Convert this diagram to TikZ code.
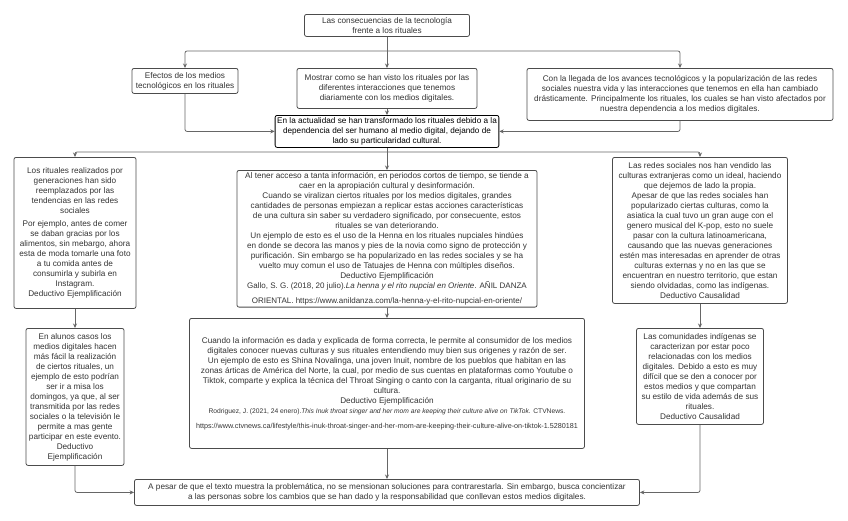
\documentclass[tikz,border=0pt]{standalone}
\usepackage{fontspec}
\setmainfont{Liberation Sans}
\usetikzlibrary{arrows.meta}
\newcommand{\cita}{\fontsize{8}{9.5}\selectfont}
\newcommand{\citachica}{\fontsize{6.7}{8}\selectfont}
\newcommand{\enlace}{\fontsize{7.2}{8.5}\selectfont}
\tikzset{
  caja/.style={draw=black!70, line width=0.8pt, rounded corners=2pt, anchor=north, align=center,
    inner xsep=2pt, inner ysep=2pt, text=black!80, font=\fontsize{8.2}{10}\selectfont},
  flecha/.style={draw=black!60, line width=0.8pt, rounded corners=2pt, -{Stealth[length=4.5pt,width=4pt]}},
  linea/.style={draw=black!60, line width=0.8pt, rounded corners=2pt}
}

\begin{document}
\begin{tikzpicture}[x=1pt,y=-1pt]
  \useasboundingbox (0,0) rectangle (848,520);
  \node[caja, minimum width=165, minimum height=22] (titulo) at (387,14)
    {Las consecuencias de la tecnología\\ frente a los rituales};
  \node[caja, minimum width=106, minimum height=25] (efectos) at (185,68)
    {Efectos de los medios\\ tecnológicos en los rituales};
  \node[caja, minimum width=180, minimum height=40] (mostrar) at (387,68)
    {Mostrar como se han visto los rituales por las\\ diferentes interacciones que tenemos\\
     diariamente con los medios digitales.};
  \node[caja, minimum width=306, minimum height=52] (llegada) at (680,68)
    {Con la llegada de los avances tecnológicos y la popularización de las redes\\
     sociales nuestra vida y las interacciones que tenemos en ella han cambiado\\
     drásticamente. Principalmente los rituales, los cuales se han visto afectados por\\
     nuestra dependencia a los medios digitales.};
  \node[caja, draw=black, text=black, minimum width=222, minimum height=32] (actualidad) at (387,115)
    {En la actualidad se han transformado los rituales debido a la\\
     dependencia del ser humano al medio digital, dejando de\\ lado su particularidad cultural.};

  \node[caja, minimum width=122, minimum height=151] (rituales) at (75,157)
    {Los rituales realizados por\\ generaciones han sido\\ reemplazados por las\\ tendencias en las redes\\
     sociales\\[3pt] Por ejemplo, antes de comer\\ se daban gracias por los\\ alimentos, sin mebargo, ahora\\
     esta de moda tomarle una foto\\ a tu comida antes de\\ consumirla y subirla en\\ Instagram.\\
     Deductivo Ejemplificación};
  \node[caja, minimum width=300, minimum height=130] (henna) at (387,170)
    {Al tener acceso a tanta información, en periodos cortos de tiempo, se tiende a\\
     caer en la apropiación cultural y desinformación.\\
     Cuando se viralizan ciertos rituales por los medios digitales, grandes\\
     cantidades de personas empiezan a replicar estas acciones características\\
     de una cultura sin saber su verdadero significado, por consecuente, estos\\
     rituales se van deteriorando.\\
     Un ejemplo de esto es el uso de la Henna en los rituales nupciales hindúes\\
     en donde se decora las manos y pies de la novia como signo de protección y\\
     purificación. Sin embargo se ha popularizado en las redes sociales y se ha\\
     vuelto muy comun el uso de Tatuajes de Henna con múltiples diseños.\\
     Deductivo Ejemplificación\\
     {\cita Gallo, S. G. (2018, 20 julio).\textit{La henna y el rito nupcial en Oriente}. AÑIL DANZA}\\[5pt]
     {\cita ORIENTAL. https://www.anildanza.com/la-henna-y-el-rito-nupcial-en-oriente/}};
  \node[caja, minimum width=175, minimum height=146] (redes) at (700,157)
    {Las redes sociales nos han vendido las\\ culturas extranjeras como un ideal, haciendo\\
     que dejemos de lado la propia.\\ Apesar de que las redes sociales han\\
     popularizado ciertas culturas, como la\\ asiatica la cual tuvo un gran auge con el\\
     genero musical del K-pop, esto no suele\\ pasar con la cultura latinoamericana,\\
     causando que las nuevas generaciones\\ estén mas interesadas en aprender de otras\\
     culturas externas y no en las que se\\ encuentran en nuestro territorio, que estan\\
     siendo olvidadas, como las indígenas.\\ Deductivo Causalidad};

  \node[caja, minimum width=98, minimum height=137] (domingo) at (75,328)
    {En alunos casos los\\ medios digitales hacen\\ más fácil la realización\\ de ciertos rituales, un\\
     ejemplo de esto podrían\\ ser ir a misa los\\ domingos, ya que, al ser\\ transmitida por las redes\\
     sociales o la televisión le\\ permite a mas gente\\ participar en este evento.\\ Deductivo\\
     Ejemplificación};
  \node[caja, minimum width=395, minimum height=130] (inuit) at (387,318)
    {Cuando la información es dada y explicada de forma correcta, le permite al consumidor de los medios\\
     digitales conocer nuevas culturas y sus rituales entendiendo muy bien sus origenes y razón de ser.\\
     Un ejemplo de esto es Shina Novalinga, una joven Inuit, nombre de los pueblos que habitan en las\\
     zonas árticas de América del Norte, la cual, por medio de sus cuentas en plataformas como Youtube o\\
     Tiktok, comparte y explica la técnica del Throat Singing o canto con la carganta, ritual originario de su\\
     cultura.\\ Deductivo Ejemplificación\\
     {\citachica Rodriguez, J. (2021, 24 enero).\textit{This Inuk throat singer and her mom are keeping their culture alive on TikTok}. CTVNews.}\\[5pt]
     {\enlace https://www.ctvnews.ca/lifestyle/this-inuk-throat-singer-and-her-mom-are-keeping-their-culture-alive-on-tiktok-1.5280181}};
  \node[caja, minimum width=127, minimum height=96] (indigenas) at (700,328)
    {Las comunidades indígenas se\\ caracterizan por estar poco\\ relacionadas con los medios\\
     digitales. Debido a esto es muy\\ difícil que se den a conocer por\\ estos medios y que compartan\\
     su estilo de vida además de sus\\ rituales.\\ Deductivo Causalidad};

  \node[caja, minimum width=505, minimum height=26] (conclusion) at (387,479)
    {A pesar de que el texto muestra la problemática, no se mensionan soluciones para contrarestarla. Sin embargo, busca concientizar\\
     a las personas sobre los cambios que se han dado y la responsabilidad que conllevan estos medios digitales.};

  \coordinate (reparto) at (387,51);
  \coordinate (reparto2) at (387,152);
  \draw[flecha] (titulo) -- (mostrar);
  \draw[flecha] (reparto) -| (efectos);
  \draw[flecha] (reparto) -| (llegada);
  \draw[flecha] (mostrar) -- (actualidad);
  \draw[flecha] (efectos) |- (actualidad);
  \draw[flecha] (llegada) |- (actualidad);
  \draw[flecha] (actualidad) -- (henna);
  \draw[flecha] (reparto2) -| (rituales);
  \draw[flecha] (reparto2) -| (redes);
  \draw[flecha] (rituales) -- (domingo);
  \draw[flecha] (henna) -- (inuit);
  \draw[flecha] (redes) -- (indigenas);
  \draw[flecha] (domingo) |- (conclusion);
  \draw[flecha] (inuit) -- (conclusion);
  \draw[flecha] (indigenas) |- (conclusion);
\end{tikzpicture}
\end{document}
